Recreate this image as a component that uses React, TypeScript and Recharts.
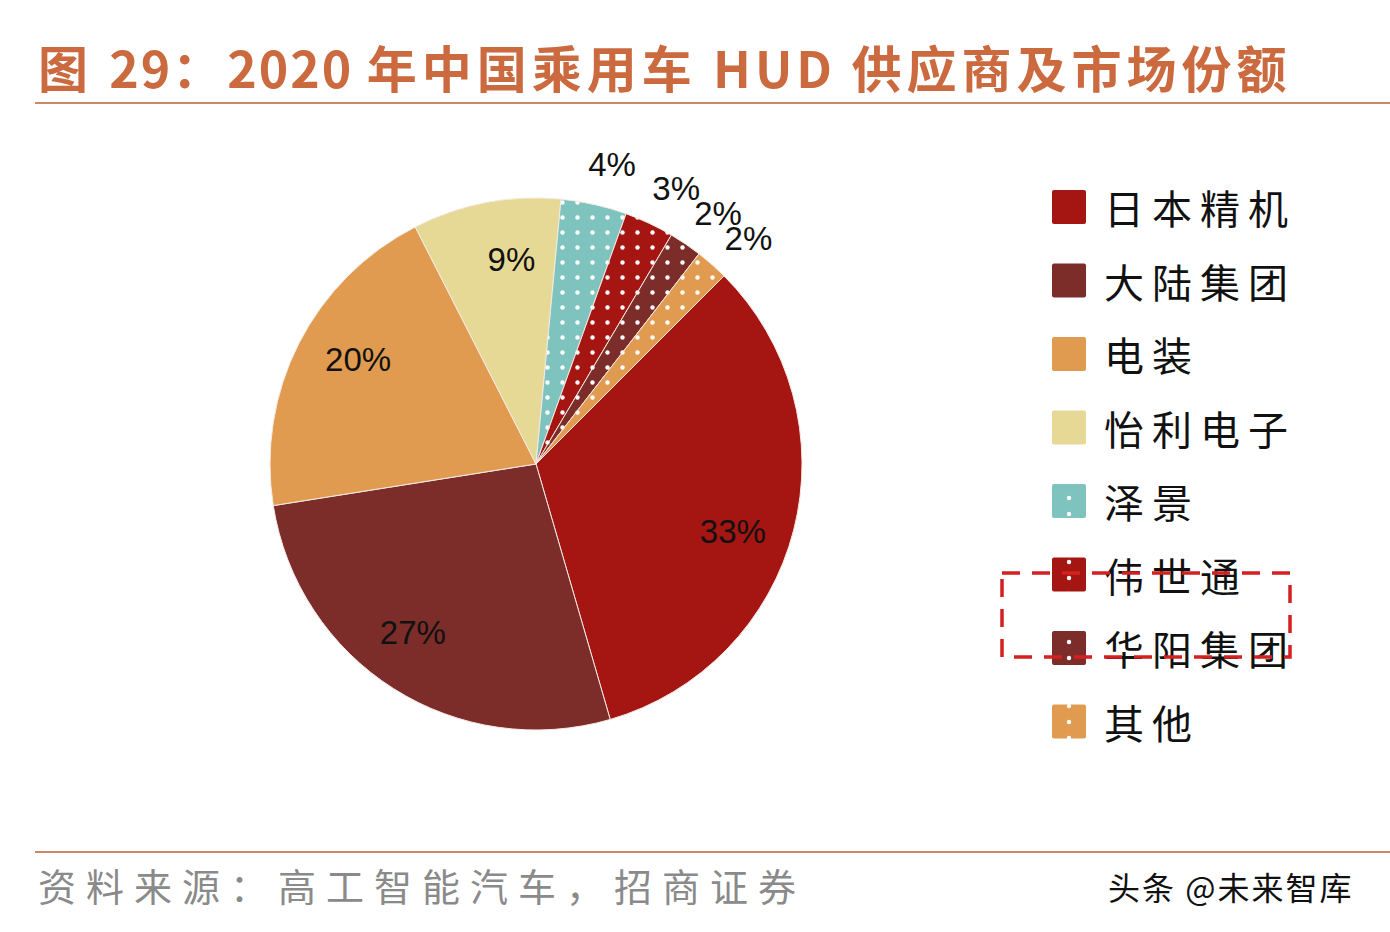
import React from 'react'
import { PieChart, Pie, Cell } from 'recharts'

const suppliers = ['日本精机', '大陆集团', '电装', '怡利电子', '泽景', '伟世通', '华阳集团', '其他']
const shares = [33, 27, 20, 9, 4, 3, 2, 2]
const baseColors = ['#A51511', '#7C2D29', '#E09B50', '#E6D995', '#7EC3BD', '#A51511', '#7C2D29', '#E09B50']
const dotted = [false, false, false, false, true, true, true, true]

// chart margin of 5 is added to cx/cy by recharts
const CX = 531
const CY = 459
const R = 266
const RAD = Math.PI / 180

const data = suppliers.map((name, i) => ({ name, value: shares[i] }))

const fillFor = (i: number) => (dotted[i] ? `url(#dots${i})` : baseColors[i])

const renderLabel = (props: any) => {
  const { cx, cy, midAngle, outerRadius, value } = props
  const small = value < 5
  const r = small ? outerRadius + 46 : outerRadius * 0.78
  const a = small ? midAngle - 1.5 : midAngle - 4
  const x = cx + r * Math.cos(-a * RAD)
  const y = cy + r * Math.sin(-a * RAD) + (small ? 3 : 2)
  return (
    <text
      x={x}
      y={y}
      fill="#111"
      textAnchor="middle"
      dominantBaseline="central"
      fontSize={33}
      fontFamily="Liberation Sans, Arial, sans-serif"
    >
      {`${value}%`}
    </text>
  )
}

const cjk = { letterSpacing: 5 }
const lat = { letterSpacing: 2 }

export default function App() {
  return (
    <div
      style={{
        position: 'absolute',
        left: 0,
        top: 0,
        width: 1390,
        height: 932,
        background: '#fff',
        overflow: 'hidden',
        fontFamily: '"Noto Sans CJK SC", sans-serif',
      }}
    >
      <div
        style={{
          position: 'absolute',
          left: 38,
          top: 32,
          fontSize: 50,
          fontWeight: 700,
          color: '#CB6A3F',
          whiteSpace: 'pre',
          lineHeight: '68px',
        }}
      >
        <span style={cjk}>图 </span>
        <span style={lat}>29</span>
        <span style={cjk}>：</span>
        <span style={lat}>2020 </span>
        <span style={cjk}>年中国乘用车 </span>
        <span style={{ letterSpacing: 4 }}>HUD </span>
        <span style={cjk}>供应商及市场份额</span>
      </div>
      <div style={{ position: 'absolute', left: 35, top: 102, width: 1355, height: 2, background: '#C98866' }} />

      <PieChart width={1390} height={932} style={{ position: 'absolute', left: 0, top: 0 }}>
        <defs>
          {dotted.map((d, i) =>
            d ? (
              <pattern key={i} id={`dots${i}`} width={15} height={15} patternUnits="userSpaceOnUse">
                <rect width={15} height={15} fill={baseColors[i]} />
                <circle cx={7.5} cy={7.5} r={2.2} fill="#fff" />
              </pattern>
            ) : null
          )}
        </defs>
        <Pie
          data={data}
          dataKey="value"
          nameKey="name"
          cx={CX}
          cy={CY}
          outerRadius={R}
          startAngle={45}
          endAngle={-315}
          stroke="#f4e9e4"
          strokeWidth={1}
          label={renderLabel}
          labelLine={false}
          isAnimationActive={false}
        >
          {data.map((d, i) => (
            <Cell key={d.name} fill={fillFor(i)} />
          ))}
        </Pie>
      </PieChart>

      {/* legend */}
      <svg width={340} height={620} style={{ position: 'absolute', left: 990, top: 170 }}>
        <defs>
          {dotted.map((d, i) =>
            d ? (
              <pattern key={i} id={`ldots${i}`} width={34} height={16} patternUnits="userSpaceOnUse" x={62} y={0}>
                <rect width={34} height={16} fill={baseColors[i]} />
                <circle cx={17} cy={8} r={2.2} fill="#fff" />
              </pattern>
            ) : null
          )}
        </defs>
        {suppliers.map((name, i) => {
          const y = 20 + i * 73.5
          return (
            <g key={name}>
              <rect x={62} y={y} width={34} height={34} rx={2} fill={dotted[i] ? `url(#ldots${i})` : baseColors[i]} />
              <text
                x={114}
                y={y + 17}
                dominantBaseline="central"
                fontSize={40}
                fill="#111"
                fontFamily='"Noto Sans CJK SC", sans-serif'
                letterSpacing={8}
              >
                {name}
              </text>
            </g>
          )
        })}
        <rect x={12} y={403} width={288} height={84} fill="none" stroke="#D42020" strokeWidth={3.5} strokeDasharray="18 12" />
      </svg>

      <div style={{ position: 'absolute', left: 35, top: 851, width: 1355, height: 2, background: '#C98866' }} />
      <div
        style={{
          position: 'absolute',
          left: 38,
          top: 858,
          fontSize: 38,
          color: '#8A8A8A',
          whiteSpace: 'nowrap',
          letterSpacing: 10,
          lineHeight: '54px',
        }}
      >
        资料来源：高工智能汽车，招商证券
      </div>
      <div
        style={{
          position: 'absolute',
          left: 1108,
          top: 864,
          fontSize: 32,
          color: '#111',
          whiteSpace: 'nowrap',
          letterSpacing: 2,
          lineHeight: '44px',
        }}
      >
        头条 @未来智库
      </div>
    </div>
  )
}
